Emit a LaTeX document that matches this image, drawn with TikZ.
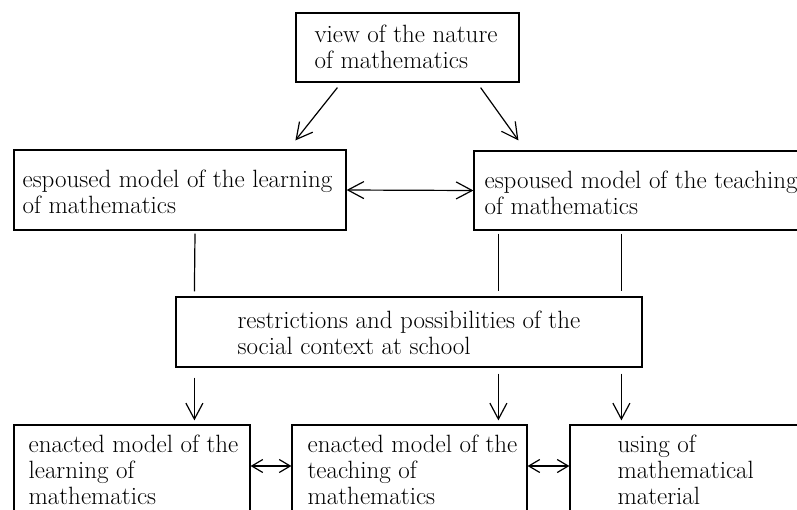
\documentclass[tikz,border=0pt]{standalone}
\usetikzlibrary{arrows.meta}
\begin{document}
\begin{tikzpicture}[x=1pt,y=-1pt,
  box/.style={draw, line width=1.2pt, rectangle, inner sep=0pt},
  txt/.style={font=\fontsize{25}{26}\selectfont, align=left, inner sep=0pt, anchor=west},
  arr/.style={line width=1.2pt, -{Straight Barb[length=16pt,width=17pt,line width=1.2pt]}},
  darr/.style={line width=1.2pt, {Straight Barb[length=16pt,width=17pt,line width=1.2pt]}-{Straight Barb[length=16pt,width=17pt,line width=1.2pt]}},
  sarr/.style={line width=1.2pt, {Straight Barb[length=11pt,width=13pt,line width=1.2pt]}-{Straight Barb[length=11pt,width=13pt,line width=1.2pt]}},
  ln/.style={line width=1.2pt}]
\useasboundingbox (0,0) rectangle (797,509);
\clip (0,0) rectangle (797,509);
% boxes
\node[box, minimum width=223pt, minimum height=69pt] (top) at (407.5,47.5) {};
\node[txt] (toptext) at ([xshift=19pt,yshift=1pt]top.west) {view of the nature\\of mathematics};
\node[box, minimum width=332pt, minimum height=80pt] (lesp) at (180,190) {};
\node[txt] (lesptext) at ([xshift=9pt,yshift=-2pt]lesp.west) {espoused model of the learning\\of mathematics};
\node[box, minimum width=340pt, minimum height=79pt] (resp) at (644,190.5) {};
\node[txt] (resptext) at ([xshift=11pt,yshift=-2pt]resp.west) {espoused model of the teaching\\of mathematics};
\node[box, minimum width=466pt, minimum height=70pt] (restr) at (409,332) {};
\node[txt] (restrtext) at ([xshift=62pt,yshift=-1pt]restr.west) {restrictions and possibilities of the\\social context at school};
\node[box, minimum width=236pt, minimum height=90pt] (lenact) at (132,470) {};
\node[txt] (lenacttext) at ([xshift=15pt,yshift=0pt]lenact.west) {enacted model of the\\learning of\\mathematics};
\node[box, minimum width=235pt, minimum height=90pt] (menact) at (409.5,470) {};
\node[txt] (menacttext) at ([xshift=16pt,yshift=0pt]menact.west) {enacted model of the\\teaching of\\mathematics};
\node[box, minimum width=240pt, minimum height=90pt] (using) at (690,470) {};
\node[txt] (usingtext) at ([xshift=48pt,yshift=0pt]using.west) {using of\\mathematical\\material};
% connectors
\draw[arr] ([xshift=42pt,yshift=-5pt]top.south west) -- ([xshift=282pt,yshift=9pt]lesp.north west);
\draw[arr] ([xshift=-39pt,yshift=-5pt]top.south east) -- ([xshift=45pt,yshift=10pt]resp.north west);
\draw[darr] (lesp.east) -- (resp.west);
\draw[ln] ([xshift=15pt,yshift=-3pt]lesp.south) -- ([xshift=19pt,yshift=5pt]restr.north west);
\draw[ln] ([xshift=25pt,yshift=-3pt]resp.south west) -- ([xshift=323pt,yshift=5pt]restr.north west);
\draw[ln] ([xshift=148pt,yshift=-3pt]resp.south west) -- ([xshift=446pt,yshift=5pt]restr.north west);
\draw[arr] ([xshift=19pt,yshift=-10pt]restr.south west) -- ([xshift=181pt,yshift=4pt]lenact.north west);
\draw[arr] ([xshift=323pt,yshift=-6pt]restr.south west) -- ([xshift=207pt,yshift=4pt]menact.north west);
\draw[arr] ([xshift=446pt,yshift=-6pt]restr.south west) -- ([xshift=52pt,yshift=4pt]using.north west);
\draw[sarr] ([yshift=4pt]lenact.east) -- ([yshift=4pt]menact.west);
\draw[sarr] ([yshift=4pt]menact.east) -- ([yshift=4pt]using.west);
\end{tikzpicture}
\end{document}
